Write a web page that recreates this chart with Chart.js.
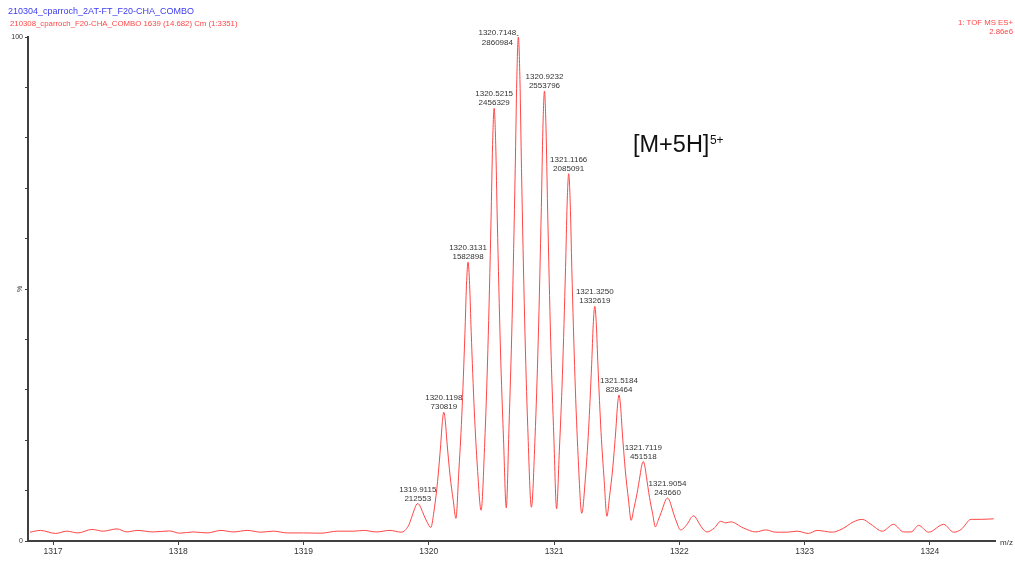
<!DOCTYPE html>
<html>
<head>
<meta charset="utf-8">
<script src="https://cdn.jsdelivr.net/npm/chart.js@4.4.1/dist/chart.umd.min.js"></script>
<style>
  html, body { margin: 0; padding: 0; background: #ffffff; }
  #wrap { width: 1015px; height: 563px; position: relative; }
</style>
</head>
<body>
<div id="wrap"><canvas id="spectrum" width="1015" height="563"></canvas></div>
<script>
// Profile spectrum: m/z and intensity (counts)
const mz = [
  1316.816, 1316.90, 1317.02, 1317.11, 1317.20, 1317.31, 1317.40, 1317.51, 1317.59, 1317.67,
  1317.80, 1317.93, 1318.01, 1318.12, 1318.23, 1318.34, 1318.44, 1318.55, 1318.66, 1318.76,
  1318.87, 1319.00, 1319.14, 1319.27, 1319.40, 1319.48, 1319.58, 1319.69, 1319.78,
  1319.8365, 1319.8615, 1319.8865, 1319.899, 1319.9115, 1319.924, 1319.9365, 1319.9615, 1319.9865,
  1320.0157,
  1320.0448, 1320.0698, 1320.0948, 1320.1073, 1320.1198, 1320.1323, 1320.1448, 1320.1698, 1320.1948,
  1320.2165,
  1320.2381, 1320.2631, 1320.2881, 1320.3006, 1320.3131, 1320.3256, 1320.3381, 1320.3631, 1320.3881,
  1320.4173,
  1320.4465, 1320.4715, 1320.4965, 1320.509, 1320.5215, 1320.534, 1320.5465, 1320.5715, 1320.5965,
  1320.6182,
  1320.6398, 1320.6648, 1320.6898, 1320.7023, 1320.7148, 1320.7273, 1320.7398, 1320.7648, 1320.7898,
  1320.819,
  1320.8482, 1320.8732, 1320.8982, 1320.9107, 1320.9232, 1320.9357, 1320.9482, 1320.9732, 1320.9982,
  1321.0199,
  1321.0416, 1321.0666, 1321.0916, 1321.1041, 1321.1166, 1321.1291, 1321.1416, 1321.1666, 1321.1916,
  1321.2208,
  1321.25, 1321.275, 1321.30, 1321.3125, 1321.3250, 1321.3375, 1321.35, 1321.375, 1321.40,
  1321.4217,
  1321.4434, 1321.4684, 1321.4934, 1321.5059, 1321.5184, 1321.5309, 1321.5434, 1321.5684, 1321.5934,
  1321.6152,
  1321.6369, 1321.6619, 1321.6869, 1321.6994, 1321.7119, 1321.7244, 1321.7369, 1321.7619, 1321.7869,
  1321.8087,
  1321.8304, 1321.8554, 1321.8804, 1321.8929, 1321.9054, 1321.9179, 1321.9304, 1321.9554, 1321.9804,
  1322.008,
  1322.07, 1322.09, 1322.114, 1322.14, 1322.17, 1322.22, 1322.28, 1322.33, 1322.37, 1322.41,
  1322.51, 1322.61, 1322.69, 1322.77, 1322.86, 1322.94, 1323.03, 1323.10, 1323.22, 1323.30,
  1323.39, 1323.46, 1323.53, 1323.62, 1323.71, 1323.79, 1323.85, 1323.91, 1323.99, 1324.11,
  1324.19, 1324.25, 1324.33, 1324.41, 1324.51
];
const intensity = [
  50100, 60100, 42900, 55800, 45800, 65800, 55800, 68700, 51500, 60100,
  51500, 57200, 44300, 51500, 45800, 60100, 51500, 60100, 50100, 55800,
  45800, 45800, 44300, 55800, 55800, 60100, 51500, 60100, 50100,
  85800, 131300, 183400, 204600, 212553, 205700, 188300, 145100, 107000,
  77200,
  188300, 338700, 547600, 671800, 730819, 676600, 562200, 369600, 231200,
  128700,
  375900, 710400, 1175900, 1452300, 1582898, 1456200, 1188700, 737800, 414000,
  174500,
  562500, 1087200, 1817600, 2251000, 2456329, 2252500, 1821600, 1095800, 574200,
  188800,
  643100, 1257700, 2112800, 2620400, 2860984, 2620700, 2113700, 1259400, 645400,
  191700,
  593400, 1136400, 1892300, 2341200, 2553796, 2340300, 1890000, 1131200, 586200,
  183100,
  506400, 943800, 1552700, 1914000, 2085091, 1911700, 1545200, 928400, 484900,
  157400,
  357100, 627400, 1003600, 1226800, 1332619, 1225400, 998800, 617100, 343000,
  140200,
  257200, 415400, 635700, 766500, 828464, 764500, 629400, 401700, 238300,
  117300,
  184200, 267800, 374500, 428000, 451518, 425400, 365900, 247200, 154500,
  80100,
  116200, 161900, 214300, 235500, 243660, 234600, 211100, 153300, 102700,
  62900,
  103000, 128700, 143100, 123000, 85800, 51500, 74400, 111600, 103000, 108700,
  74400, 51500, 62900, 50100, 50100, 55800, 42900, 60100, 50100, 68700,
  108700, 123000, 94400, 55800, 94400, 51500, 51500, 88700, 50100, 94400,
  50100, 65800, 123000, 123000, 125900
];

// Centroided isotope peaks (labelled)
const peakMz = [1319.9115, 1320.1198, 1320.3131, 1320.5215, 1320.7148, 1320.9232,
                1321.1166, 1321.3250, 1321.5184, 1321.7119, 1321.9054];
const peakIntensity = [212553, 730819, 1582898, 2456329, 2860984, 2553796,
                       2085091, 1332619, 828464, 451518, 243660];

// Axis ticks
const xTicks = [1317, 1318, 1319, 1320, 1321, 1322, 1323, 1324];
const yTickPercent = [0, 10, 20, 30, 40, 50, 60, 70, 80, 90, 100];
const yTickLabels = ['0', '', '', '', '', '', '', '', '', '', '100'];

// Header text
const sampleTitle = '210304_cparroch_2AT-FT_F20-CHA_COMBO';
const scanTitle = '210308_cparroch_F20-CHA_COMBO 1639 (14.682) Cm (1:3351)';
const functionTitle = '1: TOF MS ES+';
const baseIntensity = '2.86e6';
const ionLabel = '[M+5H]';
const ionCharge = '5+';

const FULL_SCALE = 2860984;
const FONT = '"Liberation Sans", Arial, Helvetica, sans-serif';
const LINE_RED = '#ff4646';
const AXIS_GREY = '#404040';

const points = mz.map((m, i) => ({ x: m, y: intensity[i] }));

const decorations = {
  id: 'decorations',
  afterDraw(chart) {
    const { ctx, chartArea, scales } = chart;
    const x = scales.x, y = scales.y;
    ctx.save();

    // Titles
    ctx.textBaseline = 'alphabetic';
    ctx.textAlign = 'left';
    ctx.font = '9px ' + FONT;
    ctx.fillStyle = '#3c3cf0';
    ctx.fillText(sampleTitle, 8, 14);
    ctx.font = '7.8px ' + FONT;
    ctx.fillStyle = '#ff4646';
    ctx.fillText(scanTitle, 10, 26);
    ctx.textAlign = 'right';
    ctx.fillText(functionTitle, 1013, 25);
    ctx.fillText(baseIntensity, 1013, 34);

    // Ion annotation
    ctx.textAlign = 'left';
    ctx.fillStyle = '#111111';
    ctx.font = '23.5px ' + FONT;
    ctx.fillText(ionLabel, 633, 152);
    const w = ctx.measureText(ionLabel).width;
    ctx.font = '12px ' + FONT;
    ctx.fillText(ionCharge, 633 + w + 0.5, 143.5);

    // Axis unit labels
    ctx.fillStyle = '#333333';
    ctx.font = '8px ' + FONT;
    ctx.textBaseline = 'middle';
    ctx.fillText('m/z', chartArea.right + 5, chartArea.bottom + 1.5);
    ctx.save();
    ctx.translate(20, y.getPixelForValue(FULL_SCALE / 2));
    ctx.rotate(-Math.PI / 2);
    ctx.textAlign = 'center';
    ctx.font = '7px ' + FONT;
    ctx.fillText('%', 0, 0);
    ctx.restore();

    // Peak labels
    ctx.font = '8px ' + FONT;
    ctx.fillStyle = '#333333';
    ctx.textAlign = 'center';
    ctx.textBaseline = 'middle';
    peakMz.forEach((m, i) => {
      const px = x.getPixelForValue(m);
      const py = y.getPixelForValue(peakIntensity[i]);
      const l1 = m.toFixed(4);
      const l2 = String(peakIntensity[i]);
      if (py - 18 < chartArea.top) {
        const cx = px - 21;
        ctx.fillText(l1, cx, py - 4.5);
        ctx.fillText(l2, cx, py + 5.5);
        const tw = ctx.measureText(l1).width;
        ctx.strokeStyle = '#555555';
        ctx.lineWidth = 0.8;
        ctx.beginPath();
        ctx.moveTo(cx + tw / 2 + 0.5, py - 1.5);
        ctx.lineTo(px, py - 1.5);
        ctx.stroke();
      } else {
        ctx.fillText(l1, px, py - 14);
        ctx.fillText(l2, px, py - 5);
      }
    });
    ctx.restore();
  }
};

const whiteBg = {
  id: 'whiteBg',
  beforeDraw(chart) {
    const { ctx, width, height } = chart;
    ctx.save();
    ctx.fillStyle = '#ffffff';
    ctx.fillRect(0, 0, width, height);
    ctx.restore();
  }
};

new Chart(document.getElementById('spectrum'), {
  type: 'line',
  data: {
    datasets: [{
      data: points,
      borderColor: LINE_RED,
      borderWidth: 1,
      pointRadius: 0,
      fill: false,
      cubicInterpolationMode: 'monotone'
    }]
  },
  options: {
    responsive: false,
    animation: false,
    events: [],
    layout: { padding: { top: 37, right: 20, bottom: 0, left: 0 } },
    plugins: { legend: { display: false }, tooltip: { enabled: false } },
    scales: {
      x: {
        type: 'linear',
        min: 1316.8,
        max: 1324.52,
        afterBuildTicks(scale) { scale.ticks = xTicks.map(v => ({ value: v })); },
        afterFit(scale) { scale.height = 22; },
        ticks: {
          callback: v => String(v),
          font: { family: FONT, size: 8.5 },
          color: '#333333',
          padding: 2,
          maxRotation: 0,
          autoSkip: false
        },
        grid: { drawOnChartArea: false, drawTicks: true, tickLength: 4, color: AXIS_GREY, lineWidth: 1 },
        border: { display: true, color: AXIS_GREY, width: 2 }
      },
      y: {
        type: 'linear',
        min: 0,
        max: FULL_SCALE,
        afterBuildTicks(scale) { scale.ticks = yTickPercent.map(p => ({ value: FULL_SCALE * p / 100 })); },
        afterFit(scale) { scale.width = 28; },
        ticks: {
          callback: (v, i) => yTickLabels[i],
          font: { family: FONT, size: 7 },
          color: '#333333',
          padding: 2,
          autoSkip: false
        },
        grid: { drawOnChartArea: false, drawTicks: true, tickLength: 3, color: AXIS_GREY, lineWidth: 1 },
        border: { display: true, color: AXIS_GREY, width: 2 }
      }
    }
  },
  plugins: [whiteBg, decorations]
});
</script>
</body>
</html>
